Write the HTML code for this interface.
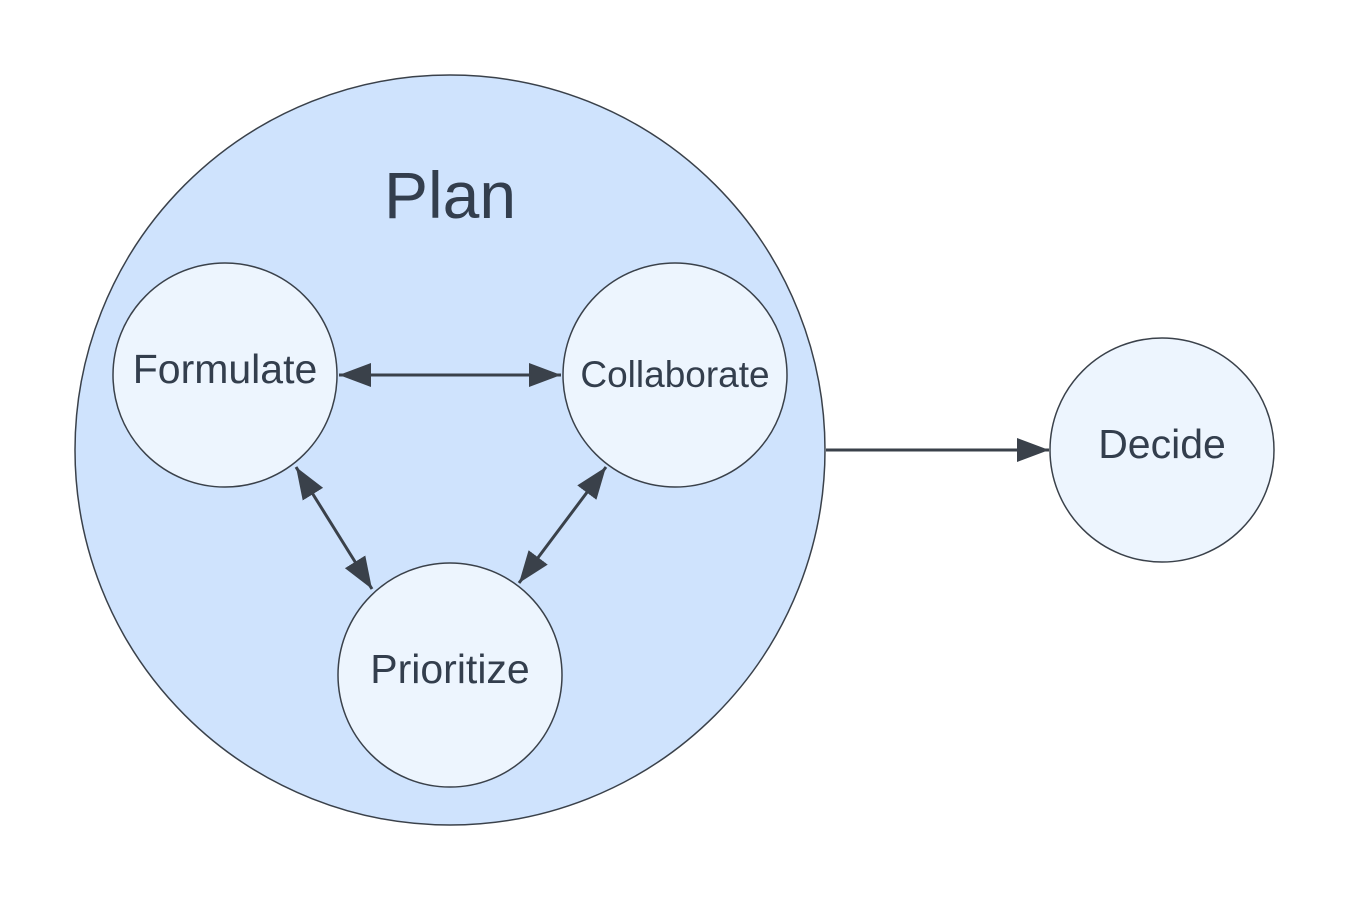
<!DOCTYPE html>
<html><head><meta charset="utf-8"><style>html,body{margin:0;padding:0;background:#fff}svg{display:block}</style></head>
<body>
<svg width="1350" height="900" viewBox="0 0 1350 900" xmlns="http://www.w3.org/2000/svg">
<defs>
<marker id="b" viewBox="0 0 32 24" refX="32" refY="12" markerWidth="32" markerHeight="24" markerUnits="userSpaceOnUse" orient="auto-start-reverse">
<path d="M0,0 L32,12 L0,24 z" fill="#3a414a"/>
</marker>
</defs>
<circle cx="450" cy="450" r="375" fill="#cfe3fd" stroke="#3a414a" stroke-width="1.5"/>
<text x="450" y="218" font-family="Liberation Sans, sans-serif" font-size="66" fill="#333e4d" text-anchor="middle">Plan</text>
<g fill="#edf5fe" stroke="#3a414a" stroke-width="1.5">
<circle cx="225" cy="375" r="112"/>
<circle cx="675" cy="375" r="112"/>
<circle cx="450" cy="675" r="112"/>
<circle cx="1162" cy="450" r="112"/>
</g>
<g stroke="#3a414a" stroke-width="3" fill="none">
<line x1="339" y1="375" x2="561" y2="375" marker-start="url(#b)" marker-end="url(#b)"/>
<line x1="296" y1="467" x2="372" y2="589" marker-start="url(#b)" marker-end="url(#b)"/>
<line x1="606" y1="467" x2="519" y2="583" marker-start="url(#b)" marker-end="url(#b)"/>
<line x1="826" y1="450" x2="1049" y2="450" marker-end="url(#b)"/>
</g>
<g font-family="Liberation Sans, sans-serif" fill="#333e4d" text-anchor="middle">
<text x="225" y="383" font-size="41">Formulate</text>
<text x="675" y="387" font-size="37">Collaborate</text>
<text x="450" y="683" font-size="41">Prioritize</text>
<text x="1162" y="458" font-size="41">Decide</text>
</g>
</svg>
</body></html>
